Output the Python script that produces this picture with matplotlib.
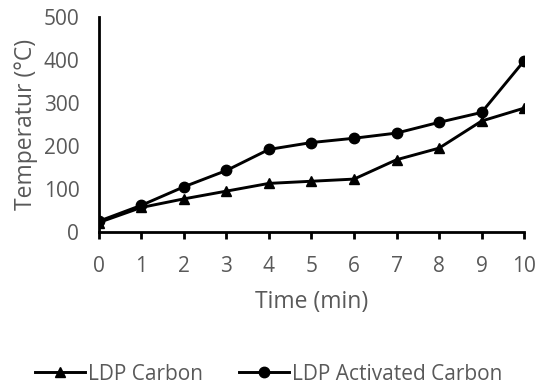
import matplotlib.pyplot as plt

# data
time = [0, 1, 2, 3, 4, 5, 6, 7, 8, 9, 10]
ldp_carbon = [22, 57, 77, 95, 113, 118, 123, 168, 195, 258, 288]
ldp_activated = [25, 62, 105, 143, 192, 208, 218, 230, 255, 278, 398]

plt.rcParams['font.family'] = ['Open Sans', 'DejaVu Sans']
grey = '#595959'

fig = plt.figure(figsize=(5.37, 3.86), dpi=100)
ax = fig.add_axes([0.184, 0.399, 0.792, 0.557])

ax.plot(time, ldp_carbon, color='black', lw=2.1, marker='^', ms=7, label='LDP Carbon')
ax.plot(time, ldp_activated, color='black', lw=2.1, marker='o', ms=7.5, label='LDP Activated Carbon')

ax.set_xlim(0, 10)
ax.set_ylim(0, 500)
ax.set_xticks(time)
ax.set_yticks([0, 100, 200, 300, 400, 500])
for s in ['top', 'right']:
    ax.spines[s].set_visible(False)
for s in ['left', 'bottom']:
    ax.spines[s].set_linewidth(2)
ax.tick_params(axis='x', length=5, width=2, labelsize=15, labelcolor=grey, pad=12)
ax.tick_params(axis='y', length=0, labelsize=15, labelcolor=grey, pad=14)

ax.set_xlabel('Time (min)', fontsize=16.5, color=grey, labelpad=10)
ax.set_ylabel('Temperatur (°C)', fontsize=16.5, color=grey, labelpad=4)

fig.legend(loc='lower center', bbox_to_anchor=(0.5, -0.045), ncol=2, frameon=False,
           fontsize=15, labelcolor=grey, handlelength=2.4, columnspacing=1.7,
           handletextpad=0.15)

plt.savefig('out.png', dpi=100)
